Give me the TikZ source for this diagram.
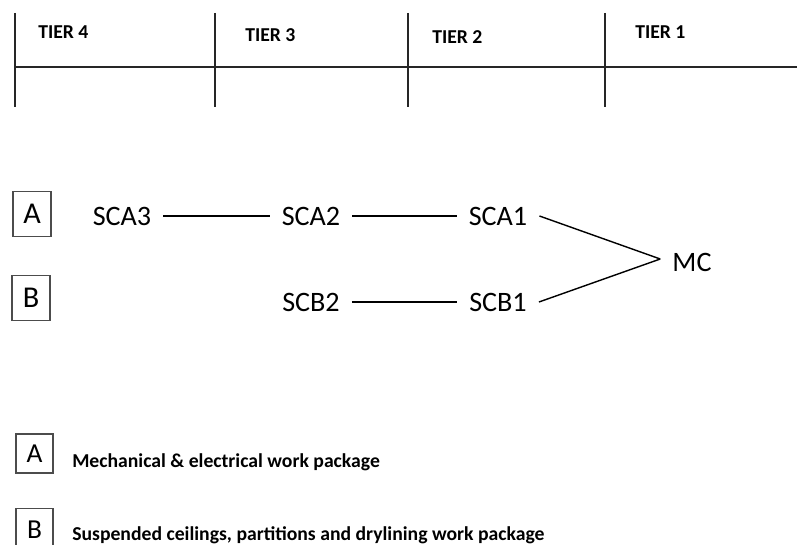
\documentclass[tikz,border=0pt]{standalone}
\usepackage{fontspec}
\setmainfont{Carlito}
\usetikzlibrary{positioning,calc}

\begin{document}
\begin{tikzpicture}[x=0.025cm, y=-0.025cm]
    \tikzset{
        tl/.style={line width=1.8pt, black!85},
        ln/.style={line width=1pt},
        sc/.style={font=\fontsize{20}{24}\selectfont, inner xsep=8.5pt, inner ysep=0pt},
        tier/.style={font=\bfseries\fontsize{14}{17}\selectfont, anchor=base west, inner sep=0pt},
        bx/.style={draw=black!70, line width=0.8pt, minimum width=27pt, minimum height=32.5pt, inner sep=0pt, font=\fontsize{21.5}{24}\selectfont},
        key/.style={bx, minimum width=26.3pt, minimum height=27.7pt, font=\fontsize{19.5}{22}\selectfont},
        legend/.style={font=\bfseries\fontsize{14}{17}\selectfont, anchor=base west, inner sep=0pt}
    }

    \useasboundingbox (0,0) rectangle (797,545);

    % tier scale
    \draw [tl] (15,67) -- (797,67);
    \foreach \x in {15,215,408,605}
        \draw [tl] (\x,13) -- (\x,107);

    \node at (38,39) [tier] (tier4) {TIER 4};
    \node at (245,42) [tier] (tier3) {TIER 3};
    \node at (432,44) [tier] (tier2) {TIER 2};
    \node at (635,39) [tier] (tier1) {TIER 1};

    % supply chains
    \node at (32,214) [bx] (boxa) {A};
    \node at (31,298) [bx] (boxb) {B};

    \node at (122,216) [sc] (sca3) {SCA3};
    \node at (311,216) [sc] (sca2) {SCA2};
    \node at (498,216) [sc] (sca1) {SCA1};
    \node at (311,302) [sc] (scb2) {SCB2};
    \node at (498,302) [sc] (scb1) {SCB1};
    \node at (692,262) [sc] (mc) {MC};

    \draw [ln] (sca3) -- (sca2);
    \draw [ln] (sca2) -- (sca1);
    \draw [ln] (scb2) -- (scb1);
    \draw [ln] (sca1.east) -- ($(mc.west)+(0,-3)$);
    \draw [ln] (scb1.east) -- ($(mc.west)+(0,-3)$);

    % key
    \node at (34.5,453.5) [key, text depth=-4pt] (keya) {A};
    \node at (34.5,530) [key, minimum height=31pt, text depth=-4pt] (keyb) {B};
    \node at (72,467) [legend] (txta) {Mechanical \& electrical work package};
    \node at (72,540) [legend] (txtb) {Suspended ceilings, partitions and drylining work package};
\end{tikzpicture}
\end{document}
